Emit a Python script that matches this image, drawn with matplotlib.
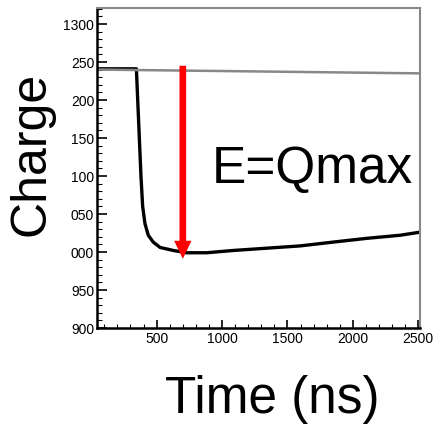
import matplotlib
matplotlib.use("Agg")
import matplotlib.pyplot as plt
from matplotlib.ticker import MultipleLocator, FixedLocator, FixedFormatter

plt.rcParams['font.family'] = ['Liberation Sans', 'DejaVu Sans']

# Integrated charge of the pulse versus time
time_ns = [44, 150, 250, 345, 380, 393, 411, 436, 474, 526, 627, 730, 883,
           1086, 1341, 1596, 1848, 2108, 2360, 2510]
charge = [1241, 1241, 1241, 1241, 1100, 1060, 1037, 1022, 1013, 1006, 1002, 999, 999,
          1002, 1005, 1008, 1013, 1018, 1022, 1026]

# Pedestal (baseline) reference line
baseline_t = [44, 2513]
baseline_q = [1240, 1235]

# Qmax arrow
arrow_t = 700
arrow_top = 1245
arrow_tip = 991

y_ticks = [900, 950, 1000, 1050, 1100, 1150, 1200, 1250, 1300]
y_labels = ["900", "950", "000", "050", "100", "150", "200", "250", "1300"]
x_ticks = [500, 1000, 1500, 2000, 2500]
x_labels = ["500", "1000", "1500", "2000", "2500"]

fig = plt.figure(figsize=(4.33, 4.27), dpi=100)
ax = fig.add_axes([97 / 433, 98 / 427, 323 / 433, 320 / 427])

ax.plot(time_ns, charge, color='black', lw=2.4, solid_joinstyle='round')
ax.plot(baseline_t, baseline_q, color='#888888', lw=1.8)

ax.annotate('', xy=(arrow_t, arrow_tip), xytext=(arrow_t, arrow_top),
            arrowprops=dict(width=4.8, headwidth=12.5, headlength=13,
                            shrink=0, color='#ff0000', lw=0))

ax.set_xlim(44, 2513)
ax.set_ylim(900, 1321)

ax.xaxis.set_major_locator(FixedLocator(x_ticks))
ax.xaxis.set_major_formatter(FixedFormatter(x_labels))
ax.xaxis.set_minor_locator(MultipleLocator(100))
ax.yaxis.set_major_locator(FixedLocator(y_ticks))
ax.yaxis.set_major_formatter(FixedFormatter(y_labels))
ax.yaxis.set_minor_locator(MultipleLocator(10))

ax.tick_params(axis='both', which='both', direction='in', colors='black',
               labelsize=10, top=False, right=False)
ax.tick_params(axis='y', which='major', length=7, width=1.2, pad=2)
ax.tick_params(axis='y', which='minor', length=3.5, width=0.8)
ax.tick_params(axis='x', which='major', length=6, width=1.2, pad=2)
ax.tick_params(axis='x', which='minor', length=3, width=0.8)

for side in ('left', 'bottom'):
    ax.spines[side].set_color('black')
    ax.spines[side].set_linewidth(1.8)
for side in ('top', 'right'):
    ax.spines[side].set_color('#888888')
    ax.spines[side].set_linewidth(1.5)

ax.text(1692, 1092, 'E=Qmax', fontsize=37, ha='center', va='baseline')

fig.text(31.5 / 433, 1 - 154 / 427, 'Charge', fontsize=36, rotation=90,
         ha='center', va='center')
fig.text(272 / 433, 1 - 400 / 427, 'Time (ns)', fontsize=37,
         ha='center', va='center')

fig.savefig('out.png', dpi=100)
